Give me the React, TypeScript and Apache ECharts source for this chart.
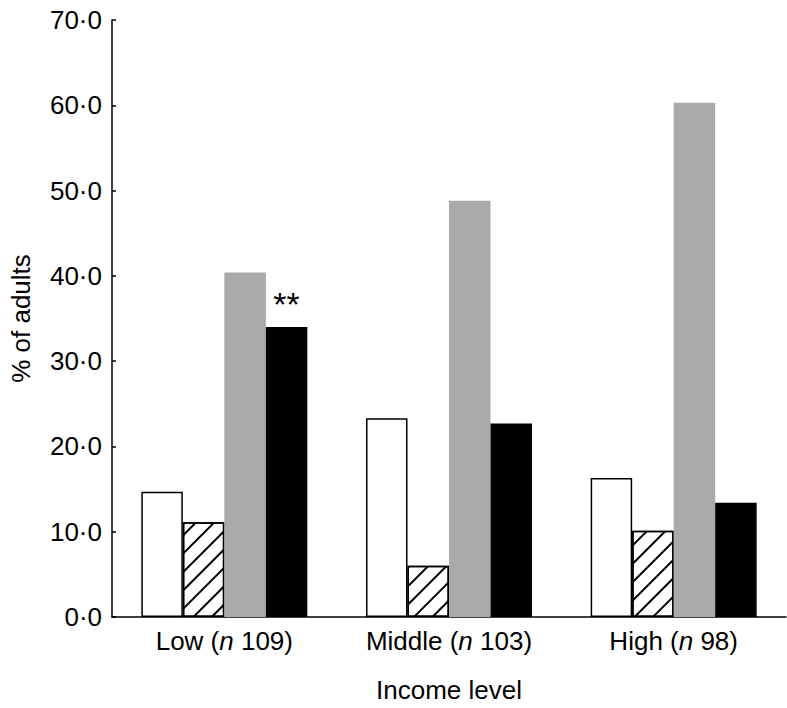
import React, { useEffect, useRef } from "react";
import * as echarts from "echarts";

const categories = ["Low", "Middle", "High"];
const sampleSizes = [109, 103, 98];
const seriesWhite = [14.7, 23.3, 16.3];
const seriesHatched = [11.1, 6.0, 10.1];
const seriesGrey = [40.4, 48.8, 60.3];
const seriesBlack = [34.0, 22.7, 13.4];
const significance = ["**", "", ""];
const yMin = 0;
const yMax = 70;
const yInterval = 10;

const FONT = "Liberation Sans";

export default function App() {
  const ref = useRef<HTMLDivElement>(null);
  useEffect(() => {
    if (!ref.current) return;
    const chart = echarts.init(ref.current, null, { renderer: "svg" });
    const barW = 41.5;
    const outline = { borderColor: "#000", borderWidth: 1.5 };
    chart.setOption({
      animation: false,
      backgroundColor: "#fff",
      grid: { left: 105.5, right: 1, top: 20, bottom: 90.5, containLabel: false },
      xAxis: {
        type: "category",
        data: categories,
        name: "Income level",
        nameLocation: "middle",
        nameGap: 60,
        nameTextStyle: { fontFamily: FONT, fontSize: 26, color: "#000" },
        axisLine: { lineStyle: { color: "#000", width: 1.5 } },
        axisTick: { inside: true, length: 5, lineStyle: { color: "#000", width: 1.5 } },
        axisLabel: {
          interval: 0,
          hideOverlap: false,
          margin: 11,
          fontFamily: FONT,
          fontSize: 26,
          color: "#000",
          formatter: (v: string, i: number) => `${v} ({i|n} ${sampleSizes[i]})`,
          rich: { i: { fontStyle: "italic", fontFamily: FONT, fontSize: 26, color: "#000" } },
        },
      },
      yAxis: {
        type: "value",
        min: yMin,
        max: yMax,
        interval: yInterval,
        name: "% of adults",
        nameLocation: "middle",
        nameGap: 78,
        nameTextStyle: { fontFamily: FONT, fontSize: 26, color: "#000" },
        axisLine: { show: true, lineStyle: { color: "#000", width: 1.5 } },
        axisTick: { show: true, inside: true, length: 4, lineStyle: { color: "#000", width: 1.5 } },
        splitLine: { show: false },
        axisLabel: {
          margin: 10,
          fontFamily: FONT,
          fontSize: 26,
          color: "#000",
          formatter: (v: number) => v.toFixed(1).replace(".", "\u00b7"),
        },
      },
      series: [
        {
          name: "White",
          type: "bar",
          barWidth: barW,
          barGap: "0%",
          data: seriesWhite,
          itemStyle: { color: "#fff", ...outline },
        },
        {
          name: "Hatched",
          type: "bar",
          barWidth: barW,
          barGap: "0%",
          data: seriesHatched,
          itemStyle: {
            color: "#fff",
            ...outline,
            decal: {
              symbol: "rect",
              symbolSize: 1,
              color: "#000",
              backgroundColor: "#fff",
              dashArrayX: [1, 0],
              dashArrayY: [1.5, 11],
              rotation: -Math.PI / 4,
            },
          },
        },
        {
          name: "Grey",
          type: "bar",
          barWidth: barW,
          barGap: "0%",
          data: seriesGrey,
          itemStyle: { color: "#aaaaaa" },
        },
        {
          name: "Black",
          type: "bar",
          barWidth: barW,
          barGap: "0%",
          data: seriesBlack,
          itemStyle: { color: "#000" },
          label: {
            show: true,
            position: "top",
            distance: 6,
            fontFamily: FONT,
            fontSize: 34,
            color: "#000",
            formatter: (p: any) => significance[p.dataIndex],
          },
        },
      ],
    });
    return () => chart.dispose();
  }, []);
  return (
    <div
      ref={ref}
      style={{ position: "fixed", left: 0, top: 0, width: 787, height: 708, background: "#fff" }}
    />
  );
}
